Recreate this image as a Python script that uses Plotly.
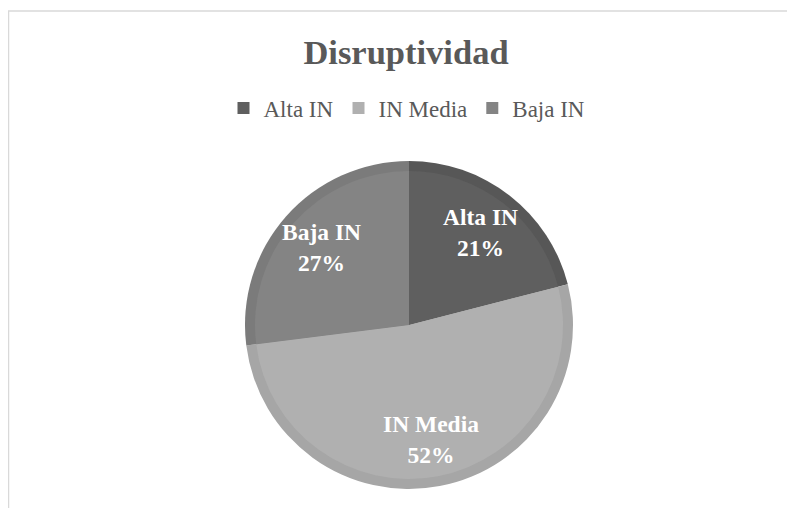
import math
import plotly.graph_objects as go

# Datos del gráfico
labels = ['Alta IN', 'IN Media', 'Baja IN']
values = [21, 52, 27]

fill_colors = ['#5f5f5f', '#b0b0b0', '#848484']
band_colors = ['#575757', '#a6a6a6', '#7b7b7b']

W, H = 795, 508
OFF = 8                    # margen del <body> en la página
cx, cy = 409 - OFF, 325 - OFF   # centro del pastel (px de la figura)
r_out, r_in = 164, 154     # radio exterior (banda) e interior
label_frac = 0.71          # posición radial de las etiquetas


#------------------------------------------------------------------------------------------------
def domain(r):
    return dict(
        x = [(cx - r) / W, (cx + r) / W],
        y = [(H - cy - r) / H, (H - cy + r) / H]
    )


fig = go.Figure()

# Banda exterior (tono más oscuro)
fig.add_trace(go.Pie(
    labels       = labels,
    values       = values,
    sort         = False,
    direction    = 'clockwise',
    rotation     = 0,
    domain       = domain(r_out),
    marker       = dict(colors=band_colors, line=dict(width=0)),
    textinfo     = 'none',
    hoverinfo    = 'skip',
    showlegend   = False
))

# Relleno interior
fig.add_trace(go.Pie(
    labels       = labels,
    values       = values,
    sort         = False,
    direction    = 'clockwise',
    rotation     = 0,
    domain       = domain(r_in),
    marker       = dict(colors=fill_colors, line=dict(width=0)),
    textinfo     = 'none',
    hoverinfo    = 'label+percent'
))

# Etiquetas de datos (al estilo de Excel), calculadas a partir de los valores
total = sum(values)
acc = 0
for label, value in zip(labels, values):
    mid = (acc + value / 2) / total * 2 * math.pi
    acc += value
    x = cx + label_frac * r_out * math.sin(mid)
    y = cy - label_frac * r_out * math.cos(mid)
    fig.add_annotation(
        x = x / W, y = 1 - y / H, xref='paper', yref='paper',
        xanchor = 'center', yanchor = 'middle',
        text = f'<b>{label}</b><br><b>{round(value / total * 100)}%</b>',
        showarrow = False,
        font = dict(family='Liberation Serif', size=23.5, color='white')
    )

fig.update_layout(
    width         = W,
    height        = H,
    margin        = dict(l=0, r=0, t=0, b=0),
    paper_bgcolor = 'white',
    plot_bgcolor  = 'white',
    font          = dict(family='Liberation Serif', color='#595959'),
    title         = dict(
        text    = '<b>Disruptividad</b>',
        x       = (406 - OFF) / W,
        xanchor = 'center',
        y       = 1 - (52 - OFF) / H,
        yanchor = 'middle',
        font    = dict(family='Liberation Serif', size=34.5, color='#595959')
    ),
    legend        = dict(
        orientation = 'h',
        x           = (407 - OFF) / W,
        xanchor     = 'center',
        y           = 1 - (108 - OFF) / H,
        yanchor     = 'middle',
        font        = dict(family='Liberation Serif', size=23, color='#595959'),
        itemwidth   = 30
    )
)

# Marco del área del gráfico
fig.add_shape(
    type = 'rect', xref='paper', yref='paper',
    x0 = 0.5 / W, x1 = 1.05, y0 = -0.05, y1 = 1 - 3 / H,
    line = dict(color='#d9d9d9', width=1.5),
    layer = 'below'
)

fig.write_html("out.html")
